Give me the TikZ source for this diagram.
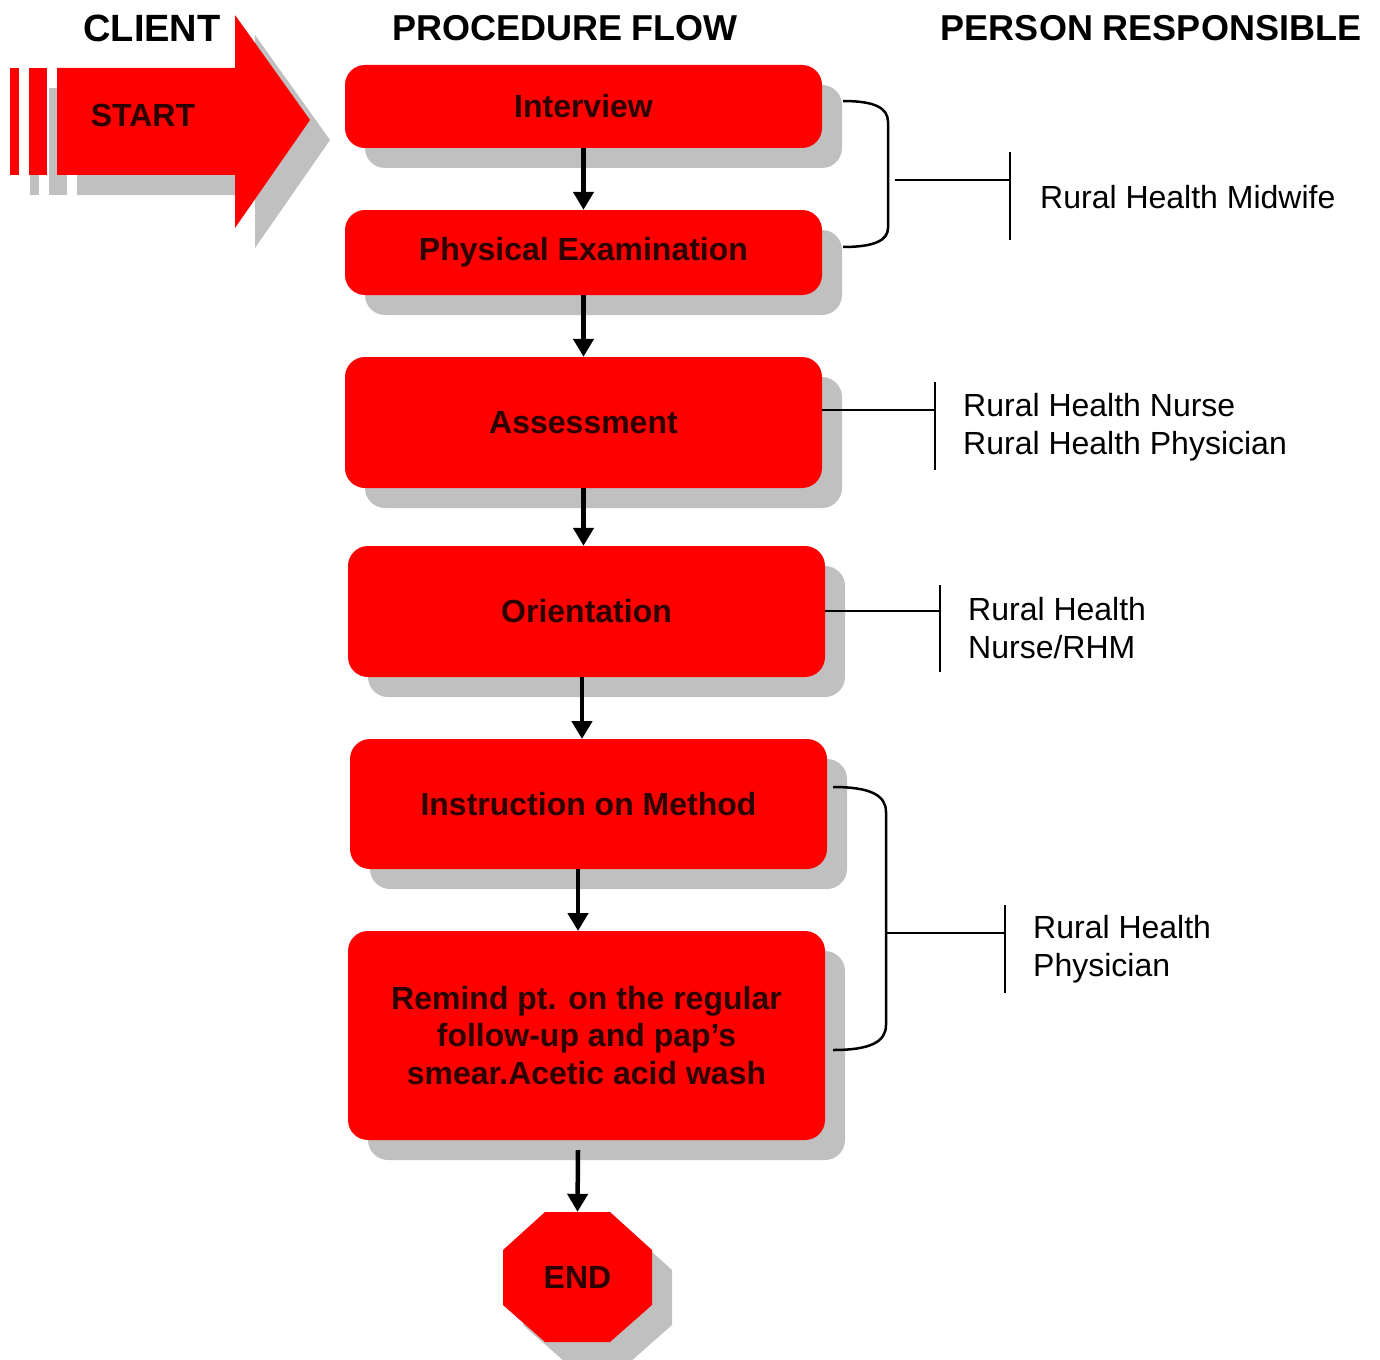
\documentclass[tikz,border=0pt]{standalone}
\usepackage{fontspec}
\setmainfont{Liberation Sans}
\usetikzlibrary{shadows,arrows.meta,calc}
\definecolor{bred}{RGB}{255,0,0}
\definecolor{sgray}{RGB}{192,192,192}
\definecolor{btext}{RGB}{45,0,0}
\tikzset{
  stepbox/.style={rectangle, rounded corners=20pt, fill=bred, minimum width=477pt,
    inner sep=0pt, font=\fontsize{32}{37.5}\selectfont\bfseries, text=btext, align=center,
    drop shadow={shadow xshift=20pt, shadow yshift=-20pt, fill=sgray, opacity=1}},
  flowarrow/.style={line width=4.5pt, -{Triangle[width=20pt,length=18pt]}},
  bracketline/.style={line width=2.5pt, black},
  persontext/.style={font=\fontsize{32}{38}\selectfont, anchor=west, align=left, inner sep=0pt},
  header/.style={font=\fontsize{36}{40}\selectfont\bfseries, inner sep=0pt},
}
\begin{document}
\begin{tikzpicture}[x=1pt,y=-1pt]
\useasboundingbox (0,0) rectangle (1380,1359);

% headers
\node[header, font=\fontsize{38}{40}\selectfont\bfseries] (hclient) at (152,28) {CLIENT};
\node[header] (hflow) at (565,28) {PROCEDURE FLOW};
\node[header] (hperson) at (1151,28) {PERSON RESPONSIBLE};

% start arrow (shadow then red)
\begin{scope}[shift={(20,20)}, fill=sgray]
  \fill (57,68) -- (235,68) -- (235,15) -- (310,120) -- (235,228) -- (235,175) -- (57,175) -- cycle;
  \fill (10,68) rectangle (19,175);
  \fill (29,68) rectangle (47,175);
\end{scope}
\begin{scope}[fill=bred]
  \fill (57,68) -- (235,68) -- (235,15) -- (310,120) -- (235,228) -- (235,175) -- (57,175) -- cycle;
  \fill (10,68) rectangle (19,175);
  \fill (29,68) rectangle (47,175);
\end{scope}
\node[font=\fontsize{32}{38}\selectfont\bfseries, text=btext, inner sep=0pt] (start) at (143,115) {START};

% process boxes
\node[stepbox, minimum height=83pt]  (intv)   at (583.5,106.5) {Interview};
\node[stepbox, minimum height=85pt]  (phys)   at (583.5,252.5) {Physical Examination};
\node[stepbox, minimum height=131pt] (asmt)   at (583.5,422.5) {Assessment};
\node[stepbox, minimum height=131pt] (orient) at (586.5,611.5) {Orientation};
\node[stepbox, minimum height=130pt] (instr)  at (588.5,804) {Instruction on Method};
\node[stepbox, minimum height=209pt] (remind) at (586.5,1035.5) {Remind pt. on the regular\\follow-up and pap's\\smear.Acetic acid wash};

% END octagon
\fill[sgray, shift={(20,20)}] (545,1212) -- (610,1212) -- (652,1250) -- (652,1305) -- (610,1342) -- (545,1342) -- (503,1305) -- (503,1250) -- cycle;
\fill[bred] (545,1212) -- (610,1212) -- (652,1250) -- (652,1305) -- (610,1342) -- (545,1342) -- (503,1305) -- (503,1250) -- cycle;
\node[minimum width=149pt, minimum height=130pt, inner sep=0pt, font=\fontsize{32}{38}\selectfont\bfseries, text=btext] (end) at (577.5,1277) {END};

% flow arrows
\coordinate (a4s) at (582,677);
\coordinate (a4e) at (582,739);
\coordinate (a5s) at (578,869);
\coordinate (a5e) at (578,931);
\coordinate (a6s) at (578,1150);
\draw[flowarrow] (intv.south) -- (intv.south |- phys.north);
\draw[flowarrow] (phys.south) -- (phys.south |- asmt.north);
\draw[flowarrow] (asmt.south) -- (asmt.south |- orient.north);
\draw[flowarrow] (a4s) -- (a4e);
\draw[flowarrow] (a5s) -- (a5e);
\draw[flowarrow] (a6s) -- (end.north);

% bracket 1: Interview + Physical Examination
\coordinate (b1top) at (843,101);
\coordinate (b1bot) at (843,247);
\coordinate (b1mid) at (895,180);
\coordinate (t1) at (1010,180);
\draw[bracketline] (b1top) .. controls (875,101) and (888,108) .. (888,122) -- (888,228) .. controls (888,240) and (875,247) .. (b1bot);
\draw[bracketline] (b1mid) -- (t1);
\draw[bracketline] (1010,152) -- (1010,240);
\node[persontext] (p1) at (1040,197) {Rural Health Midwife};

% Assessment
\coordinate (t2) at (935,410);
\draw[bracketline] (asmt.east |- t2) -- (t2);
\draw[bracketline] (935,382) -- (935,470);
\node[persontext] (p2) at (963,427) {Rural Health Nurse\\Rural Health Physician};

% Orientation
\coordinate (t3) at (940,611);
\draw[bracketline] (orient.east |- t3) -- (t3);
\draw[bracketline] (940,585) -- (940,672);
\node[persontext] (p3) at (968,628) {Rural Health\\Nurse/RHM};

% bracket 2: Instruction + Remind
\coordinate (b2top) at (833,787);
\coordinate (b2bot) at (833,1050);
\coordinate (b2mid) at (886,933);
\coordinate (t4) at (1005,933);
\draw[bracketline] (b2top) .. controls (870,787) and (886,795) .. (886,812) -- (886,1025) .. controls (886,1042) and (870,1050) .. (b2bot);
\draw[bracketline] (b2mid) -- (t4);
\draw[bracketline] (1005,905) -- (1005,993);
\node[persontext] (p4) at (1033,949) {Rural Health\\Physician};
\end{tikzpicture}
\end{document}
